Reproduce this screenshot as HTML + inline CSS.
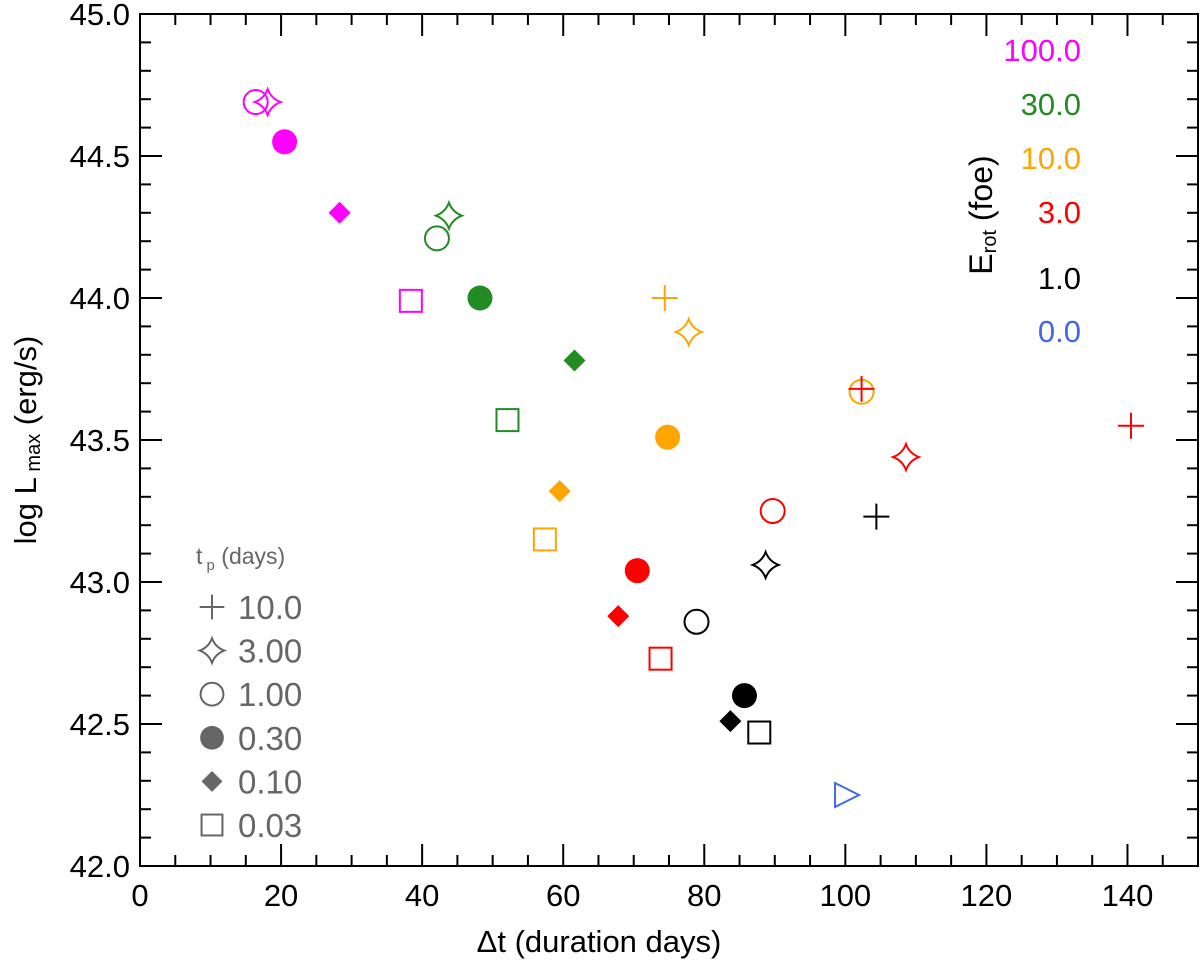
<!DOCTYPE html>
<html><head><meta charset="utf-8"><style>body{margin:0;background:#fff}svg{display:block;font-family:"Liberation Sans",Arial,sans-serif}</style></head>
<body>
<svg id="chart" width="1200" height="962">
<g id="axes"></g><g id="marks"></g><g id="legends"></g>
</svg>
<script>
const groups = ["100.0","30.0","10.0","3.0","1.0","0.0"];
const groupColors = ["#ff00ff","#228b22","#ffa500","#ff0000","#000000","#4169e1"];
const symbols = ["plus","star","circle","disc","diamond","square","triangle"];
const tpLabels = ["10.0","3.00","1.00","0.30","0.10","0.03"];
const ptGroup = [0,0,0,0,0, 1,1,1,1,1, 2,2,2,2,2,2, 3,3,3,3,3,3,3, 4,4,4,4,4,4, 5];
const ptSymbol = [2,1,3,4,5, 1,2,3,4,5, 0,1,2,3,4,5, 0,0,1,2,3,4,5, 0,1,2,3,4,5, 6];
const ptX = [16.4,18.1,20.5,28.3,38.4, 43.8,42.1,48.2,61.6,52.1, 74.4,77.8,102.3,74.8,59.5,57.4, 140.5,102.3,108.6,89.7,70.5,67.8,73.8, 104.4,88.7,78.9,85.7,83.7,87.8, 100.1];
const ptY = [44.69,44.69,44.55,44.30,43.99, 44.29,44.21,44.00,43.78,43.57, 44.00,43.88,43.67,43.51,43.32,43.15, 43.55,43.68,43.44,43.25,43.04,42.88,42.73, 43.23,43.06,42.86,42.60,42.51,42.47, 42.25];
const xTicks = [0,20,40,60,80,100,120,140];
const yTicks = [42.0,42.5,43.0,43.5,44.0,44.5,45.0];

const L=140,R=1198,T=14,B=866;
const sx=v=>L+(v-0)*(R-L)/150;
const sy=v=>B-(v-42)*(B-T)/3;
const NS="http://www.w3.org/2000/svg";
function mk(tag,attrs,parent,txt){const e=document.createElementNS(NS,tag);for(const k in attrs)e.setAttribute(k,attrs[k]);if(txt!=null)e.textContent=txt;parent.appendChild(e);return e;}
const ax=document.getElementById('axes'),mg=document.getElementById('marks'),lg=document.getElementById('legends');
const fr=mk('rect',{x:L,y:T,width:R-L,height:B-T,fill:'none',stroke:'#000','stroke-width':2},ax);


for(let v=0;v<=150;v+=5){const x=sx(v),len=v%20===0?22:11;
 mk('line',{x1:x,x2:x,y1:B,y2:B-len,stroke:'#000','stroke-width':2},ax);
 mk('line',{x1:x,x2:x,y1:T,y2:T+len,stroke:'#000','stroke-width':2},ax);}
for(let i=0;i<=30;i++){const v=42+i*0.1,y=sy(v),len=i%5===0?22:11;
 mk('line',{x1:L,x2:L+len,y1:y,y2:y,stroke:'#000','stroke-width':2},ax);
 mk('line',{x1:R,x2:R-len,y1:y,y2:y,stroke:'#000','stroke-width':2},ax);}
xTicks.forEach(v=>{const t=mk('text',{x:sx(v),y:B+40,'text-anchor':'middle','font-size':31},ax,String(v));
 
 });
yTicks.forEach(v=>{const t=mk('text',{x:L-10,y:sy(v)+11,'text-anchor':'end','font-size':31},ax,v.toFixed(1));
 
 });
const xt=mk('text',{x:(L+R)/2-70,y:952,'text-anchor':'middle','font-size':31},ax,'\u0394t (duration days)');


const yt=mk('text',{transform:'translate(36,440) rotate(-90)','text-anchor':'middle','font-size':31},ax);


yt.innerHTML='log L<tspan font-size="20" dy="4"> max</tspan><tspan dy="-4"> (erg/s)</tspan>';

function drawSym(sym,x,y,c,parent,s){
 s=s||1;let e;
 if(sym==='plus'){e=mk('path',{d:`M${x-13*s} ${y}H${x+13*s}M${x} ${y-13*s}V${y+13*s}`,stroke:c,'stroke-width':2,fill:'none'},parent);}
 else if(sym==='star'){const r=13*s,q=3.5*s;e=mk('path',{d:`M${x} ${y-r}Q${x+q} ${y-q} ${x+r} ${y}Q${x+q} ${y+q} ${x} ${y+r}Q${x-q} ${y+q} ${x-r} ${y}Q${x-q} ${y-q} ${x} ${y-r}Z`,stroke:c,'stroke-width':2,fill:'none'},parent);}
 else if(sym==='circle'){e=mk('circle',{cx:x,cy:y,r:12*s,stroke:c,'stroke-width':2,fill:'none'},parent);}
 else if(sym==='disc'){e=mk('circle',{cx:x,cy:y,r:12.5*s,fill:c},parent);}
 else if(sym==='diamond'){const r=11*s;e=mk('path',{d:`M${x} ${y-r}L${x+r} ${y}L${x} ${y+r}L${x-r} ${y}Z`,fill:c},parent);}
 else if(sym==='square'){const r=11*s;e=mk('rect',{x:x-r,y:y-r,width:2*r,height:2*r,stroke:c,'stroke-width':2,fill:'none'},parent);}
 else {e=mk('path',{d:`M${x-11} ${y-12}L${x+13} ${y}L${x-11} ${y+12}Z`,stroke:c,'stroke-width':2,fill:'none'},parent);}
 return e;}
ptX.forEach((v,i)=>{const e=drawSym(symbols[ptSymbol[i]],sx(v),sy(ptY[i]),groupColors[ptGroup[i]],mg);
 
 });

const lt=mk('text',{x:196,y:564,'font-size':23,fill:'#666'},lg);


lt.innerHTML='t<tspan font-size="15" dy="6"> p</tspan><tspan dy="-6"> (days)</tspan>';
tpLabels.forEach((l,i)=>{const y=607+i*43.6;
 const m=drawSym(symbols[i],212,y,'#666',lg,0.95);
 
 
 const t=mk('text',{x:238,y:y+12,'font-size':33,fill:'#666'},lg,l);
 
 });
groups.forEach((g,i)=>{const ys=[61,115,169,223,289,342];
 const t=mk('text',{x:1081,y:ys[i],'text-anchor':'end','font-size':31,fill:groupColors[i]},lg,g);
 
 });
const et=mk('text',{transform:'translate(992,215) rotate(-90)','text-anchor':'middle','font-size':32},lg);


et.innerHTML='E<tspan font-size="20" dy="4">rot</tspan><tspan dy="-4"> (foe)</tspan>';
</script>
</body></html>
